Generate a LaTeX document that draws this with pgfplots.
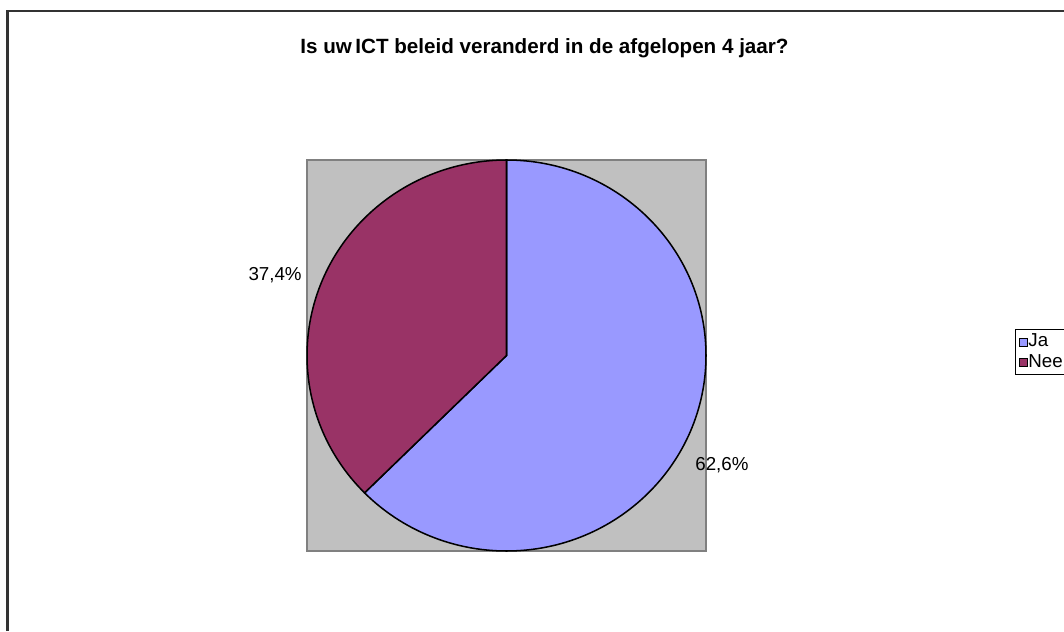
\documentclass[border=0pt]{standalone}
\usepackage{fontspec}
\setmainfont{Liberation Sans}
\usepackage{pgfplots}
\usepackage{pgfplotstable}
\pgfplotsset{compat=1.18}
\definecolor{ja}{HTML}{9999FF}
\definecolor{nee}{HTML}{993366}
\definecolor{plotbg}{HTML}{C0C0C0}
\definecolor{plotframe}{HTML}{808080}

% antwoorden (procent)
\pgfplotstableread{
antwoord aandeel
Ja 62.6
Nee 37.4
}\pietable
\pgfplotstablegetelem{0}{aandeel}\of\pietable \let\valja\pgfplotsretval
\pgfplotstablegetelem{1}{aandeel}\of\pietable \let\valnee\pgfplotsretval
\pgfmathsetmacro\angja{90-3.6*\valja}

\begin{document}
\begin{tikzpicture}
\begin{scope}[x=0.015cm,y=0.015cm]
  \draw[line width=1.1pt, black!80] (7.5,0) -- (7.5,620) -- (1064,620);
  \node[font=\bfseries\fontsize{8.8}{10}\selectfont] at (544.5,583) {Is uw\,ICT beleid veranderd in de afgelopen 4 jaar?};
\end{scope}
\begin{axis}[
  at={(4.605cm,1.2cm)}, anchor=south west,
  scale only axis, width=5.985cm, height=5.865cm,
  xmin=-1, xmax=1, ymin=-1, ymax=1,
  axis background/.style={fill=plotbg},
  axis line style={plotframe, line width=0.6pt},
  ticks=none, clip=false,
  legend cell align=left,
  legend style={at={(1.774,0.567)}, anchor=north west, draw=black, line width=0.4pt,
    font=\fontsize{8}{9.6}\selectfont, row sep=1pt, column sep=0pt, inner sep=1.5pt,
    nodes={inner sep=0.3pt}},
  legend image code/.code={\draw[#1, line width=0.4pt] (-0.02cm,-0.06cm) rectangle (0.1cm,0.06cm);},
]
  \filldraw[fill=ja, draw=black, line width=0.65pt] (axis cs:0,0) -- (axis cs:0,1)
    arc[start angle=90, end angle=\angja, x radius=1, y radius=1] -- cycle;
  \filldraw[fill=nee, draw=black, line width=0.65pt] (axis cs:0,0) -- (axis cs:{cos(\angja)},{sin(\angja)})
    arc[start angle=\angja, end angle=-270, x radius=1, y radius=1] -- cycle;
  \node[font=\fontsize{8}{9.6}\selectfont] at (axis cs:1.08,-0.56) {62,6\%};
  \node[font=\fontsize{8}{9.6}\selectfont] at (axis cs:-1.16,0.41) {37,4\%};
  \addlegendimage{fill=ja, draw=black}
  \addlegendentry{Ja}
  \addlegendimage{fill=nee, draw=black}
  \addlegendentry{Nee}
\end{axis}
\pgfresetboundingbox
\path[use as bounding box] (0,0) rectangle (15.96cm,9.465cm);
\end{tikzpicture}
\end{document}
